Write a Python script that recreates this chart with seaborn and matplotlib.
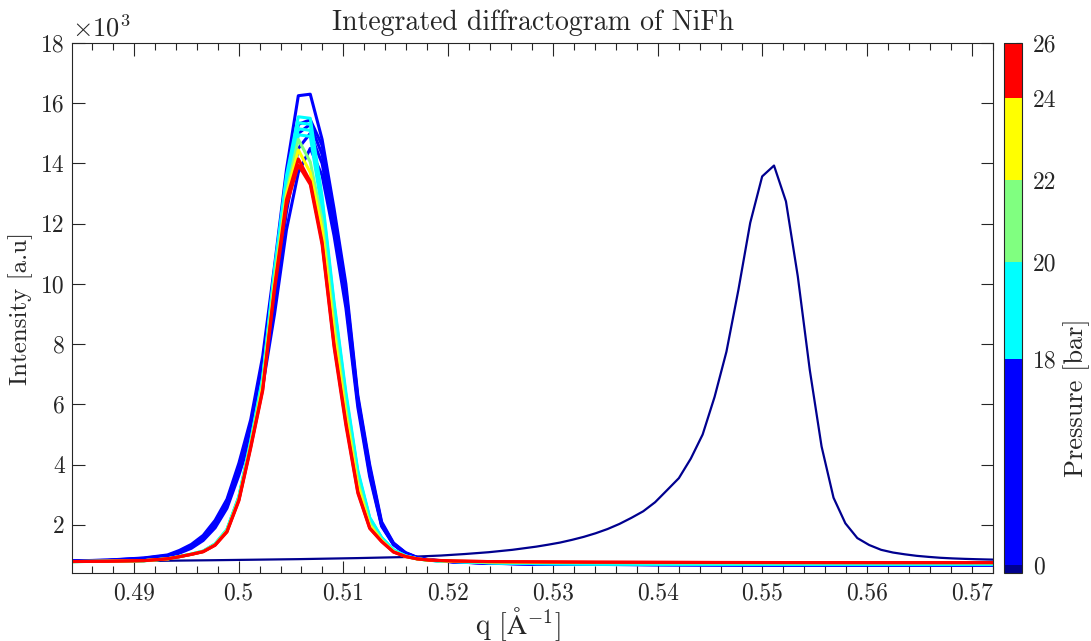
import numpy as np
import pandas as pd
import matplotlib
matplotlib.use("Agg")
import matplotlib.pyplot as plt
import seaborn as sns
from matplotlib.colors import ListedColormap, BoundaryNorm
from matplotlib.cm import ScalarMappable
from matplotlib.ticker import FixedLocator, MultipleLocator, FuncFormatter

# ---------------- data ----------------
Q_ALPHA = [0.48414, 0.48754, 0.49095, 0.49322,
           0.49435, 0.49549, 0.49662, 0.49776, 0.49889, 0.50003, 0.50116, 0.50230, 0.50343, 0.50457,
           0.50570, 0.50684,
           0.50797, 0.50911, 0.51024, 0.51138, 0.51251, 0.51365, 0.51478, 0.51592, 0.51705, 0.51819,
           0.52046, 0.52386, 0.52840, 0.53408, 0.53975, 0.54543, 0.55110, 0.55678, 0.56245, 0.56813, 0.57267]

Q_NAVY = [0.48414, 0.49095, 0.49776, 0.50570, 0.51138, 0.51592, 0.51932, 0.52159, 0.52386, 0.52613,
          0.52840, 0.52954, 0.53067, 0.53181, 0.53294, 0.53408, 0.53521, 0.53635, 0.53748, 0.53862,
          0.53975, 0.54089, 0.54202, 0.54316, 0.54429, 0.54543, 0.54656, 0.54770, 0.54883, 0.54997,
          0.55110, 0.55224, 0.55337, 0.55451, 0.55564, 0.55678, 0.55791, 0.55905, 0.56018, 0.56132,
          0.56245, 0.56359, 0.56472, 0.56586, 0.56699, 0.56813, 0.56926, 0.57040, 0.57153, 0.57267]

I_NAVY = [775, 800, 825, 860, 895, 930, 980, 1030, 1090, 1170,
          1275, 1340, 1410, 1500, 1600, 1720, 1860, 2030, 2230, 2450,
          2750, 3150, 3550, 4200, 5000, 6250, 7750, 9800, 12030, 13570,
          13930, 12740, 10250, 7150, 4600, 2900, 2050, 1560, 1330, 1170,
          1080, 1020, 970, 935, 905, 885, 870, 858, 848, 840]

I_BLUE_1 = [800, 830, 900, 1000,
            1150, 1350, 1650, 2150, 2850, 4050, 5500, 7600, 10600, 13800,
            16250, 16300,
            14800, 12500, 10000, 6300, 4000, 2100, 1400, 1080, 920, 840,
            780, 730, 700, 690, 680, 675, 670, 670, 670, 670, 670]
I_BLUE_2 = [800, 825, 890, 980,
            1120, 1310, 1600, 2080, 2780, 3950, 5350, 7400, 10300, 13300,
            15300, 15450,
            14600, 12300, 9800, 6200, 3900, 2050, 1380, 1070, 910, 835,
            775, 728, 700, 688, 680, 675, 670, 670, 670, 670, 670]
I_BLUE_3 = [795, 820, 880, 960,
            1100, 1280, 1560, 2020, 2700, 3850, 5200, 7150, 9900, 12800,
            15000, 15300,
            14300, 12100, 9600, 6100, 3800, 2000, 1360, 1060, 905, 830,
            772, 726, 698, 686, 678, 673, 668, 668, 668, 668, 668]
I_BLUE_4 = [790, 815, 870, 950,
            1080, 1250, 1520, 1960, 2620, 3750, 5050, 6900, 9500, 12400,
            14500, 15000,
            14000, 11900, 9400, 6050, 3700, 1980, 1350, 1050, 900, 828,
            770, 724, 697, 685, 677, 672, 668, 668, 668, 668, 668]
I_BLUE_5 = [790, 810, 860, 940,
            1060, 1220, 1480, 1900, 2550, 3650, 4900, 6600, 9000, 11800,
            13700, 14500,
            13600, 11600, 9200, 5900, 3600, 1950, 1340, 1040, 895, 826,
            768, 722, 696, 684, 676, 671, 667, 667, 667, 667, 667]
I_CYAN_1 = [780, 790, 810, 875,
            950, 1030, 1130, 1370, 1850, 2950, 4800, 6900, 10500, 13600,
            15550, 15500,
            12900, 9400, 6400, 3800, 2250, 1580, 1170, 970, 875, 822,
            785, 745, 715, 705, 700, 698, 697, 697, 697, 697, 697]
I_CYAN_2 = [780, 790, 810, 872,
            948, 1028, 1125, 1362, 1840, 2930, 4760, 6850, 10400, 13450,
            15350, 15300,
            12750, 9300, 6300, 3750, 2220, 1570, 1165, 968, 873, 821,
            784, 744, 714, 704, 699, 697, 696, 696, 696, 696, 696]
I_CYAN_3 = [779, 789, 809, 870,
            946, 1026, 1120, 1355, 1830, 2910, 4720, 6800, 10300, 13300,
            15150, 15100,
            12600, 9200, 6200, 3700, 2200, 1560, 1160, 965, 872, 820,
            783, 743, 713, 703, 698, 696, 695, 695, 695, 695, 695]
I_CYAN_4 = [779, 789, 808, 868,
            944, 1024, 1118, 1350, 1820, 2900, 4700, 6750, 10200, 13150,
            14950, 14900,
            12450, 9100, 6150, 3650, 2180, 1550, 1155, 962, 870, 819,
            782, 742, 712, 702, 697, 695, 694, 694, 694, 694, 694]
I_GREEN = [779, 789, 808, 868,
           944, 1024, 1115, 1345, 1810, 2880, 4680, 6700, 10150, 13050,
           14800, 14050,
           12100, 8700, 5850, 3450, 2050, 1500, 1125, 952, 866, 821,
           790, 765, 750, 745, 742, 740, 739, 739, 739, 739, 739]
I_YELLOW = [779, 789, 808, 868,
            942, 1022, 1112, 1338, 1795, 2850, 4640, 6600, 10050, 12950,
            14450, 13700,
            11800, 8400, 5650, 3300, 1980, 1475, 1110, 950, 866, 822,
            792, 768, 755, 750, 747, 745, 744, 744, 744, 744, 744]
I_RED_1 = [780, 790, 810, 870,
           940, 1020, 1110, 1330, 1780, 2830, 4600, 6500, 9900, 12800,
           14150, 13400,
           11400, 8000, 5400, 3100, 1900, 1450, 1100, 950, 870, 830,
           800, 780, 770, 760, 755, 750, 748, 746, 745, 745, 745]
I_RED_2 = [782, 792, 812, 872,
           942, 1018, 1105, 1320, 1760, 2800, 4550, 6450, 9800, 12600,
           13950, 13300,
           11300, 7900, 5300, 3050, 1880, 1440, 1095, 948, 868, 828,
           800, 780, 770, 760, 755, 750, 748, 746, 745, 745, 745]

CURVE_NAMES = ["navy", "blue1", "blue2", "blue3", "blue4", "blue5",
               "cyan1", "cyan2", "cyan3", "cyan4", "green", "yellow", "red1", "red2"]
CURVE_GROUPS = ["navy", "blue", "blue", "blue", "blue", "blue",
                "cyan", "cyan", "cyan", "cyan", "green", "yellow", "red", "red"]
CURVE_VALUES = [I_NAVY, I_BLUE_1, I_BLUE_2, I_BLUE_3, I_BLUE_4, I_BLUE_5,
                I_CYAN_1, I_CYAN_2, I_CYAN_3, I_CYAN_4, I_GREEN, I_YELLOW, I_RED_1, I_RED_2]

GROUP_COLORS = {"navy": "#00008F", "blue": "#0000FF", "cyan": "#00FFFF",
                "green": "#80FF80", "yellow": "#FFFF00", "red": "#FF0000"}
CBAR_GROUPS = ["navy", "blue", "cyan", "green", "yellow", "red"]
CBAR_EDGES = [0, 1.6, 40.3, 58.7, 74.1, 89.6, 100]
CBAR_LABELS = ["0", "18", "20", "22", "24", "26"]

X_TICKS = [0.49, 0.50, 0.51, 0.52, 0.53, 0.54, 0.55, 0.56, 0.57]
Y_TICKS = [2000, 4000, 6000, 8000, 10000, 12000, 14000, 16000, 18000]

# ---------------- style ----------------
sns.set_theme(style="ticks")
plt.rcParams["font.family"] = ["cmr10", "DejaVu Serif"]
plt.rcParams["mathtext.fontset"] = "cm"
plt.rcParams["axes.formatter.use_mathtext"] = True
plt.rcParams["axes.unicode_minus"] = False

W, H = 1091, 641
fig = plt.figure(figsize=(W / 100, H / 100), dpi=100)
ax = fig.add_axes([72 / W, 68 / H, 921 / W, 530 / H])
cax = fig.add_axes([1004 / W, 68 / H, 18 / W, 530 / H])

rows = []
for name, vals in zip(CURVE_NAMES, CURVE_VALUES):
    qs = Q_NAVY if name == "navy" else Q_ALPHA
    for q, v in zip(qs, vals):
        rows.append((name, q, v))
df = pd.DataFrame(rows, columns=["curve", "q", "intensity"])
palette = {n: GROUP_COLORS[g] for n, g in zip(CURVE_NAMES, CURVE_GROUPS)}

sns.lineplot(data=df, x="q", y="intensity", hue="curve", hue_order=CURVE_NAMES,
             palette=palette, sort=False, estimator=None, legend=False,
             linewidth=2.2, ax=ax)
ax.lines[0].set_linewidth(1.6)

ax.set_xlim(0.4841, 0.5720)
ax.set_ylim(400, 18000)
ax.xaxis.set_major_locator(FixedLocator(X_TICKS))
ax.xaxis.set_minor_locator(MultipleLocator(0.002))
ax.yaxis.set_major_locator(FixedLocator(Y_TICKS))
ax.xaxis.set_major_formatter(FuncFormatter(lambda v, p: f"{v:.2f}".rstrip("0")))
ax.yaxis.set_major_formatter(FuncFormatter(lambda v, p: f"{v/1000:.0f}"))

edge = "#262626"
for s in ax.spines.values():
    s.set_color(edge)
    s.set_linewidth(0.8)
ax.tick_params(which="both", direction="in", top=True, right=True, colors=edge,
               labelsize=17, width=0.8)
ax.tick_params(which="major", length=9, pad=7)
ax.tick_params(which="minor", length=5)
ax.tick_params(axis="y", which="major", length=9, pad=5)

ax.set_xlabel(r"q [$\mathrm{\AA}^{-1}$]", fontsize=20, color=edge)
ax.xaxis.set_label_coords(0.484, -0.060)
ax.set_ylabel("Intensity [a.u]", fontsize=18, color=edge, labelpad=6)
ax.set_title("Integrated diffractogram of NiFh", fontsize=20, color=edge, pad=9)
ax.text(0.0, 1.003, r"$\times10^{3}$", transform=ax.transAxes, ha="left", va="bottom",
        fontsize=19, color=edge)

cmap = ListedColormap([GROUP_COLORS[g] for g in CBAR_GROUPS])
norm = BoundaryNorm(CBAR_EDGES, cmap.N)
cb = fig.colorbar(ScalarMappable(norm=norm, cmap=cmap), cax=cax, spacing="proportional",
                  ticks=CBAR_EDGES[1:])
cb.ax.set_yticklabels(CBAR_LABELS)
cb.outline.set_edgecolor(edge)
cb.outline.set_linewidth(0.8)
cb.ax.tick_params(direction="in", length=4, colors=edge, labelsize=17, width=0.8, pad=8)
cb.ax.minorticks_off()
cb.set_label("Pressure [bar]", fontsize=19, color=edge)
cb.ax.yaxis.set_label_coords(3.3, 0.33)

fig.savefig("out.png", dpi=100, facecolor="white")
